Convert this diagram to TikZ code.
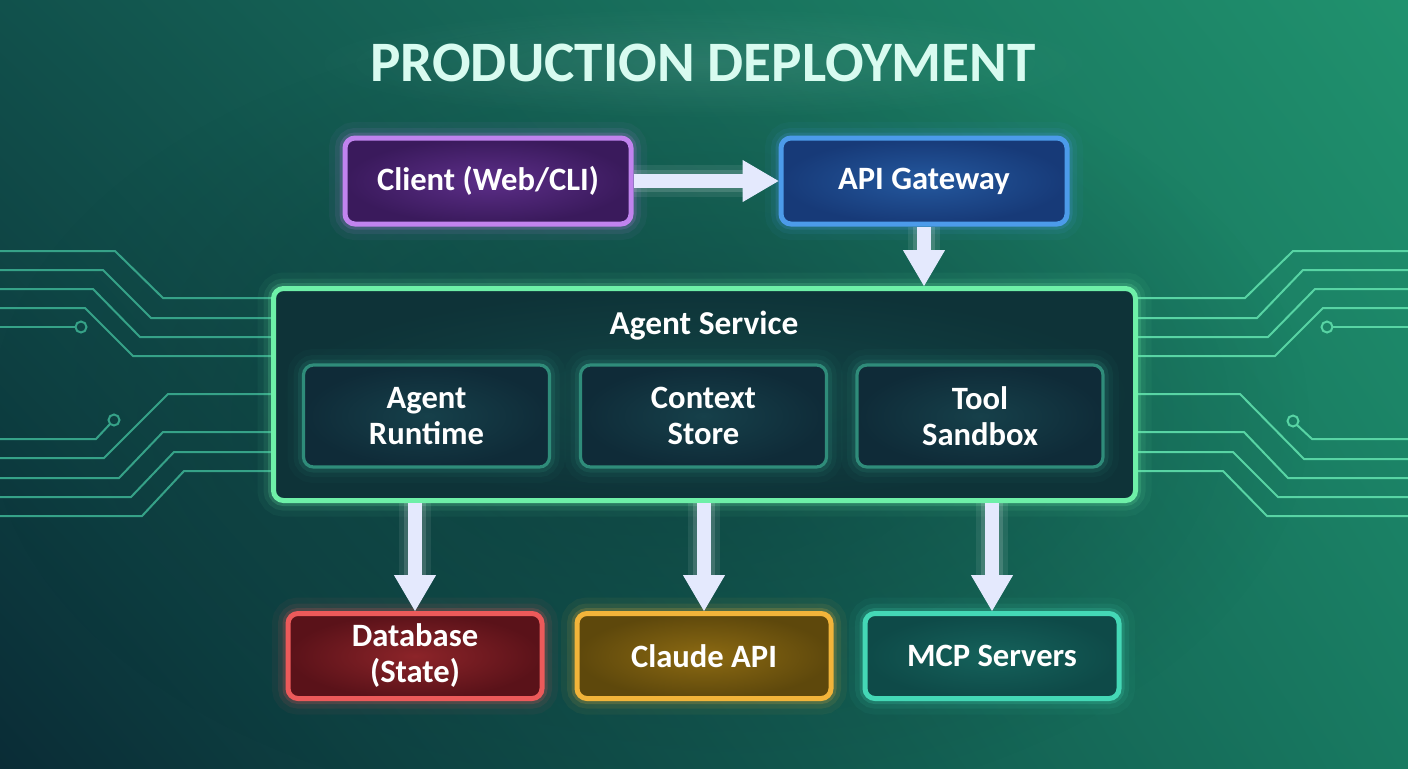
\documentclass[tikz,border=0pt]{standalone}
\usepackage{fontspec}
\setmainfont{Carlito}
\usetikzlibrary{arrows.meta,fadings,calc,shadings}
\tikzfading[name=myfadeout, inner color=transparent!0, outer color=transparent!100]
\definecolor{bgTL}{HTML}{11514C}
\definecolor{bgTR}{HTML}{20926E}
\definecolor{bgBL}{HTML}{0A2C36}
\definecolor{bgBR}{HTML}{187A61}
\definecolor{bgdark}{HTML}{0B3438}
\definecolor{circL}{HTML}{36A288}
\definecolor{circR}{HTML}{58D4A4}
\definecolor{titlec}{HTML}{D8FBF0}
\definecolor{arrowc}{HTML}{E4E9FD}
\definecolor{cliBd}{HTML}{C183EE}
\definecolor{cliIn}{HTML}{5C2E88}
\definecolor{cliOut}{HTML}{3A1A5C}
\definecolor{apiBd}{HTML}{4C9BEA}
\definecolor{apiIn}{HTML}{24589E}
\definecolor{apiOut}{HTML}{173A78}
\definecolor{svcBd}{HTML}{6EF0A8}
\definecolor{svcIn}{HTML}{124646}
\definecolor{svcOut}{HTML}{0E3338}
\definecolor{subBd}{HTML}{2F8C7A}
\definecolor{subIn}{HTML}{16404A}
\definecolor{subOut}{HTML}{0F2B38}
\definecolor{dbBd}{HTML}{EC5A5A}
\definecolor{dbIn}{HTML}{8C2429}
\definecolor{dbOut}{HTML}{5A1219}
\definecolor{clBd}{HTML}{F2B43A}
\definecolor{clIn}{HTML}{8C6A12}
\definecolor{clOut}{HTML}{5E480C}
\definecolor{mcpBd}{HTML}{44D8B6}
\definecolor{mcpIn}{HTML}{15625B}
\definecolor{mcpOut}{HTML}{0E4A48}
\tikzset{
  box/.style={rectangle, rounded corners=5pt, line width=2.5pt, text=white,
    font=\fontsize{16.3}{18}\selectfont\bfseries, align=center},
  glow/.style={preaction={draw=#1, line width=16pt, opacity=0.05},
    preaction={draw=#1, line width=10pt, opacity=0.09},
    preaction={draw=#1, line width=5.5pt, opacity=0.18}},
  circ/.style={line width=1pt, draw=#1},
  flow/.style={line width=7pt, draw=arrowc,
    -{Triangle[width=21pt,length=18pt,line width=0.5pt]},
    preaction={draw=white, line width=16pt, opacity=0.08, -, shorten >=14pt},
    preaction={draw=white, line width=11pt, opacity=0.14, -, shorten >=14pt}}
}
\begin{document}
\begin{tikzpicture}[x=0.5pt,y=-0.5pt]
\useasboundingbox (0,0) rectangle (1408,768);
\shade[upper left=bgTL, upper right=bgTR, lower left=bgBL, lower right=bgBR] (0,0) rectangle (1408,768);
\fill[bgdark, opacity=0.55, path fading=myfadeout] (650,420) ellipse (330pt and 200pt);
\fill[titlec, opacity=0.10, path fading=myfadeout] (703,63) ellipse (200pt and 28pt);

% circuit lines left
\begin{scope}[circ=circL]
\draw (0,251) -- (115,251) -- (163,298) -- (275,298);
\draw (0,270) -- (103,270) -- (151,318) -- (275,318);
\draw (0,289) -- (93,289) -- (140,337) -- (275,337);
\draw (0,308) -- (85,308) -- (133,356) -- (275,356);
\draw (0,327) -- (75.5,327);
\draw (81,327) circle[radius=2.75pt];
\draw (275,394) -- (168,394) -- (104,458) -- (0,458);
\draw (114,420) circle[radius=2.75pt];
\draw (110,424) -- (96,439) -- (0,439);
\draw (275,432) -- (163,432) -- (119,478) -- (0,478);
\draw (275,452) -- (174,452) -- (131,497) -- (0,497);
\draw (275,471) -- (184,471) -- (142,516) -- (0,516);
\end{scope}
% circuit lines right
\begin{scope}[circ=circR]
\draw (1134,298) -- (1245,298) -- (1293,251) -- (1408,251);
\draw (1134,318) -- (1257,318) -- (1303,270) -- (1408,270);
\draw (1134,337) -- (1268,337) -- (1315,289) -- (1408,289);
\draw (1134,356) -- (1275,356) -- (1323,308) -- (1408,308);
\draw (1327,327) circle[radius=2.75pt];
\draw (1332.5,327) -- (1408,327);
\draw (1134,394) -- (1240,394) -- (1304,459) -- (1408,459);
\draw (1293,421) circle[radius=2.75pt];
\draw (1297,425) -- (1312,439) -- (1408,439);
\draw (1134,432) -- (1244,432) -- (1288,478) -- (1408,478);
\draw (1134,452) -- (1233,452) -- (1278,497) -- (1408,497);
\draw (1134,471) -- (1223,471) -- (1267,516) -- (1408,516);
\end{scope}

% title
\node[text=titlec, font=\fontsize{28.6}{32}\selectfont\bfseries] (title) at (703,63) {PRODUCTION DEPLOYMENT};

% top row
\node[box, glow=cliBd, draw=cliBd, inner color=cliIn, outer color=cliOut,
  minimum width=143pt, minimum height=43pt] (client) at (488,181) {Client (Web/CLI)};
\node[box, glow=apiBd, draw=apiBd, inner color=apiIn, outer color=apiOut,
  minimum width=143pt, minimum height=43pt] (api) at (924,181) {API Gateway};

% agent service
\node[box, glow=svcBd, draw=svcBd, inner color=svcIn, outer color=svcOut,
  minimum width=431pt, minimum height=106pt] (svc) at (704.5,394.5) {};
\node[text=white, font=\fontsize{16.7}{18}\selectfont\bfseries] (svctitle) at (704,326) {Agent Service};
\node[box, line width=1.6pt, glow=subBd, draw=subBd, inner color=subIn, outer color=subOut,
  minimum width=123pt, minimum height=51pt] (runtime) at (426.5,416) {Agent\\Runtime};
\node[box, line width=1.6pt, glow=subBd, draw=subBd, inner color=subIn, outer color=subOut,
  minimum width=123pt, minimum height=51pt] (context) at (703.5,416) {Context\\Store};
\node[box, line width=1.6pt, glow=subBd, draw=subBd, inner color=subIn, outer color=subOut,
  minimum width=123pt, minimum height=51pt] (sandbox) at (980,416) {Tool\\Sandbox};

% bottom row
\node[box, glow=dbBd, draw=dbBd, inner color=dbIn, outer color=dbOut,
  minimum width=127pt, minimum height=42.5pt] (db) at (415,656) {Database\\(State)};
\node[box, glow=clBd, draw=clBd, inner color=clIn, outer color=clOut,
  minimum width=127pt, minimum height=42.5pt] (claude) at (704,656) {Claude API};
\node[box, glow=mcpBd, draw=mcpBd, inner color=mcpIn, outer color=mcpOut,
  minimum width=127pt, minimum height=42.5pt] (mcp) at (992,656) {MCP Servers};

% connectors
\draw[flow] (client.east) -- (api.west);
\draw[flow] (api.south) -- (api.south |- svc.north);
\draw[flow] (db.north |- svc.south) -- (db.north);
\draw[flow] (claude.north |- svc.south) -- (claude.north);
\draw[flow] (mcp.north |- svc.south) -- (mcp.north);
\end{tikzpicture}
\end{document}
